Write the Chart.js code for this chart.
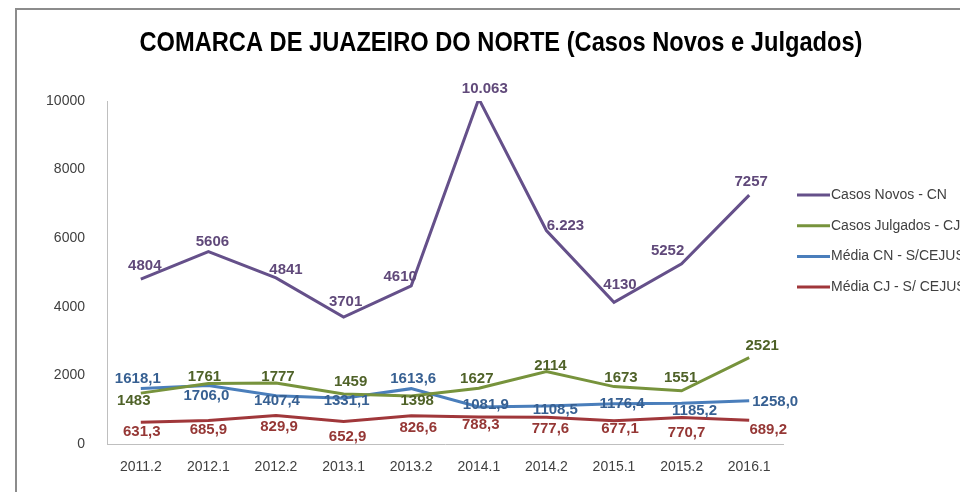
<!DOCTYPE html>
<html>
<head>
<meta charset="utf-8">
<script src="https://cdn.jsdelivr.net/npm/chart.js@4"></script>
<style>
    body { margin: 0; background: #ffffff; }
    #wrap { position: relative; width: 960px; height: 492px; overflow: hidden; }
    #frame {
        position: absolute; left: 15px; top: 8px; width: 1000px; height: 600px;
        border-left: 2px solid #8c8c8c; border-top: 2px solid #8c8c8c;
    }
    #chart { position: absolute; left: 0; top: 0; }
</style>
</head>
<body>
<div id="wrap">
    <div id="frame"></div>
    <canvas id="chart" width="960" height="492"></canvas>
</div>
<script>
// dados
const periodos = ["2011.2", "2012.1", "2012.2", "2013.1", "2013.2", "2014.1", "2014.2", "2015.1", "2015.2", "2016.1"];
const casosNovos = [4804, 5606, 4841, 3701, 4610, 10063, 6223, 4130, 5252, 7257];
const casosJulgados = [1483, 1761, 1777, 1459, 1398, 1627, 2114, 1673, 1551, 2521];
const mediaCN = [1618.1, 1706.0, 1407.4, 1331.1, 1613.6, 1081.9, 1108.5, 1176.4, 1185.2, 1258.0];
const mediaCJ = [631.3, 685.9, 829.9, 652.9, 826.6, 788.3, 777.6, 677.1, 770.7, 689.2];
const yTicks = [0, 2000, 4000, 6000, 8000, 10000];

// textos dos rótulos como aparecem no gráfico
const rotulosCN = ["4804", "5606", "4841", "3701", "4610", "10.063", "6.223", "4130", "5252", "7257"];
const rotulosCJ = casosJulgados.map((v) => String(v));
const rotulosMediaCN = mediaCN.map((v) => v.toFixed(1).replace(".", ","));
const rotulosMediaCJ = mediaCJ.map((v) => v.toFixed(1).replace(".", ","));

// deslocamento (px) de cada rótulo em relação ao ponto
const offsetsCN = [[4, -13], [4, -10], [10, -8], [2, -15], [-11, -9], [6, -10], [19, -5], [6, -17], [-14, -13], [2, -13]];
const offsetsCJ = [[-7, 8], [-4, -7], [2, -6], [7, -12], [6, 5], [-2, -9], [4, -6], [7, -9], [-1, -13], [13, -12]];
const offsetsMediaCN = [[-3, -10], [-2, 10], [1, 5], [3, 3], [2, -10], [7, -2], [9, 4], [8, 0], [13, 8], [26, 1]];
const offsetsMediaCJ = [[1, 10], [0, 9], [3, 11], [4, 15], [7, 12], [2, 8], [4, 12], [6, 8], [5, 15], [19, 9]];

const FONT = "'Liberation Sans', Arial, sans-serif";
const TITULO = "COMARCA DE JUAZEIRO DO NORTE (Casos Novos e Julgados)";

const makeDataset = (label, data, color, labelColor, rotulos, offsets) => ({
    label,
    data,
    borderColor: color,
    backgroundColor: color,
    borderWidth: 3,
    pointRadius: 0,
    tension: 0,
    labelColor,
    rotulos,
    offsets,
});

// rótulos de dados
const dataLabels = {
    id: "dataLabels",
    afterDatasetsDraw(chart) {
        const ctx = chart.ctx;
        ctx.save();
        ctx.font = "bold 15px " + FONT;
        ctx.textAlign = "center";
        ctx.textBaseline = "middle";
        chart.data.datasets.forEach((ds, i) => {
            const meta = chart.getDatasetMeta(i);
            ctx.fillStyle = ds.labelColor;
            meta.data.forEach((pt, j) => {
                const [dx, dy] = ds.offsets[j];
                ctx.fillText(ds.rotulos[j], pt.x + dx, pt.y + dy);
            });
        });
        ctx.restore();
    },
};

// título e legenda desenhados à mão
const extras = {
    id: "extras",
    afterDraw(chart) {
        const ctx = chart.ctx;
        ctx.save();
        ctx.fillStyle = "#000000";
        ctx.font = "bold 27px " + FONT;
        ctx.textAlign = "center";
        ctx.textBaseline = "middle";
        // fonte condensada: comprime na horizontal até ~723px
        const w = ctx.measureText(TITULO).width;
        const sx = 723 / w;
        ctx.translate(501, 44);
        ctx.scale(sx, 1);
        ctx.fillText(TITULO, 0, 0);
        ctx.restore();

        ctx.save();
        ctx.font = "14px " + FONT;
        ctx.textAlign = "left";
        ctx.textBaseline = "middle";
        chart.data.datasets.forEach((ds, i) => {
            const y = 195 + i * 30.7;
            ctx.strokeStyle = ds.borderColor;
            ctx.lineWidth = 3;
            ctx.beginPath();
            ctx.moveTo(797, y);
            ctx.lineTo(830, y);
            ctx.stroke();
            ctx.fillStyle = "#404040";
            ctx.fillText(ds.label, 831, y);
        });
        ctx.restore();
    },
};

new Chart(document.getElementById("chart").getContext("2d"), {
    type: "line",
    data: {
        labels: periodos,
        datasets: [
            makeDataset("Casos Novos - CN", casosNovos, "#65508a", "#60497a", rotulosCN, offsetsCN),
            makeDataset("Casos Julgados - CJ", casosJulgados, "#77933c", "#4f6228", rotulosCJ, offsetsCJ),
            makeDataset("Média CN - S/CEJUSC", mediaCN, "#4a7ebb", "#376092", rotulosMediaCN, offsetsMediaCN),
            makeDataset("Média CJ - S/ CEJUSC", mediaCJ, "#a0373a", "#953735", rotulosMediaCJ, offsetsMediaCJ),
        ],
    },
    options: {
        responsive: false,
        animation: false,
        layout: { padding: { top: 101, left: 0, right: 177, bottom: 0 } },
        scales: {
            x: {
                offset: true,
                grid: { display: false },
                border: { display: true, color: "#bfbfbf", width: 1 },
                ticks: { color: "#404040", font: { size: 14, family: FONT }, padding: 7, maxRotation: 0 },
                afterFit: (scale) => { scale.height = 48; },
            },
            y: {
                min: 0,
                max: 10000,
                afterBuildTicks: (scale) => { scale.ticks = yTicks.map((v) => ({ value: v })); },
                grid: { display: false },
                border: { display: true, color: "#bfbfbf", width: 1 },
                ticks: {
                    color: "#404040",
                    font: { size: 14, family: FONT },
                    padding: 14,
                    callback: (v) => String(v),
                },
                afterFit: (scale) => { scale.width = 107; },
            },
        },
        plugins: {
            legend: { display: false },
            title: { display: false },
            tooltip: { enabled: false },
        },
    },
    plugins: [dataLabels, extras],
});
</script>
</body>
</html>
